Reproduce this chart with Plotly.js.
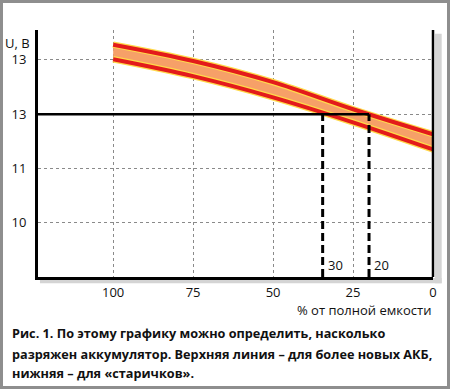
<!DOCTYPE html>
<html>
<head>
<meta charset="utf-8">
<script src="https://cdn.plot.ly/plotly-3.0.1.min.js"></script>
<style>
  html, body { margin: 0; padding: 0; background: #fff; }
  #wrap { position: relative; width: 450px; height: 389px; }
  #chart { width: 450px; height: 389px; }
  #frame { position: absolute; left: 0; top: 0; width: 450px; height: 389px; box-sizing: border-box;
           border: 3px solid #8e8e8e; pointer-events: none; }
</style>
</head>
<body>
<div id="wrap"><div id="chart"></div><div id="frame"></div></div>
<script>
// --- data ---
const capacity = [100, 75, 50, 25, 0];          // % of full capacity
const uNew     = [13.28, 12.98, 12.59, 12.09, 11.63]; // upper line (newer batteries)
const uOld     = [13.01, 12.70, 12.31, 11.85, 11.35]; // lower line (older batteries)
const refVoltage = 12;
const markX = [34.5, 20];
const markLabels = ['30', '20'];
const xTickVals = [100, 75, 50, 25, 0];
const xTickText = ['100', '75', '50', '25', '0'];
const yTickVals = [10, 11, 12, 13];
const yTickText = ['10', '11', '13', '13'];
const xRange = [123.5, 0];
const yRange = [9, 13.55];
const yTitle = 'U, B';
const xTitle = '% от полной емкости';
const caption = [
  'Рис. 1. По этому графику можно определить, насколько',
  'разряжен аккумулятор. Верхняя линия – для более новых АКБ,',
  'нижняя – для «старичков».'
];

const RED = '#e31b1b', ORANGE = '#f6a068', YEL = '#ffd94a';
const traces = [];
traces.push({x: capacity, y: uOld, mode: 'lines', line: {width: 0, shape: 'spline', color: 'rgba(0,0,0,0)'}, hoverinfo: 'skip'});
traces.push({x: capacity, y: uNew, mode: 'lines', fill: 'tonexty', fillcolor: ORANGE, line: {width: 0, shape: 'spline', color: 'rgba(0,0,0,0)'}, hoverinfo: 'skip'});
[uNew, uOld].forEach(u => traces.push({x: capacity, y: u, mode: 'lines', line: {width: 6.5, shape: 'spline', color: YEL}, hoverinfo: 'skip'}));
[uNew, uOld].forEach(u => traces.push({x: capacity, y: u, mode: 'lines', line: {width: 4, shape: 'spline', color: RED}, hoverinfo: 'skip'}));
// reference voltage line
traces.push({x: [xRange[0], markX[1]], y: [refVoltage, refVoltage], mode: 'lines', line: {width: 2.5, color: '#000'}, hoverinfo: 'skip'});
markX.forEach(mx => traces.push({x: [mx, mx], y: [yRange[0], refVoltage], mode: 'lines', line: {width: 3, color: '#000', dash: '8px,4px'}, hoverinfo: 'skip'}));

const annotations = [];
annotations.push({xref: 'paper', yref: 'y', x: -0.015, y: 13.31, xanchor: 'right', yanchor: 'middle', text: yTitle, showarrow: false, font: {size: 13, color: '#111', family: 'Open Sans'}});
annotations.push({xref: 'paper', yref: 'paper', x: 1, y: -0.134, xanchor: 'right', yanchor: 'middle', text: xTitle, showarrow: false, font: {size: 13, color: '#111', family: 'Open Sans'}});
markX.forEach((mx, i) => annotations.push({xref: 'x', yref: 'y', x: mx, y: 9.22, xanchor: 'left', yanchor: 'middle', xshift: 3, text: markLabels[i], showarrow: false, font: {size: 13, color: '#111', family: 'Open Sans'}}));
const capY = [-0.2267, -0.3117, -0.3887];
caption.forEach((t, i) => annotations.push({xref: 'paper', yref: 'paper', x: -0.0709, y: capY[i], xanchor: 'left', yanchor: 'middle', text: '<b>' + t + '</b>', showarrow: false, font: {size: 12.7, color: '#111', family: 'Open Sans'}}));

const shapes = [
  // shadow right of plot and below it
  {type: 'rect', xref: 'paper', yref: 'paper', x0: 1.005, x1: 1.022, y0: -0.025, y1: 0.985, fillcolor: '#d4d4d4', line: {width: 0}, layer: 'below'},
  {type: 'rect', xref: 'paper', yref: 'paper', x0: 0.005, x1: 1.022, y0: -0.025, y1: -0.004, fillcolor: '#d4d4d4', line: {width: 0}, layer: 'below'},
  // right frame line of the plot
  {type: 'line', xref: 'paper', yref: 'paper', x0: 1, x1: 1, y0: 0, y1: 1, line: {width: 2.5, color: '#000'}}
];

const layout = {
  width: 450, height: 389,
  margin: {l: 38, r: 17, t: 30, b: 112},
  paper_bgcolor: '#fff', plot_bgcolor: 'rgba(0,0,0,0)',
  showlegend: false,
  font: {family: 'Open Sans', size: 13, color: '#111'},
  xaxis: {range: xRange, tickvals: xTickVals, ticktext: xTickText, showgrid: true, gridcolor: '#8a8a8a', griddash: 'dot', gridwidth: 1,
          zeroline: false, showline: true, linecolor: '#000', linewidth: 3, ticks: '', ticklabelstandoff: 1, fixedrange: true},
  yaxis: {range: yRange, tickvals: yTickVals, ticktext: yTickText, showgrid: true, gridcolor: '#8a8a8a', griddash: 'dot', gridwidth: 1,
          zeroline: false, showline: true, linecolor: '#000', linewidth: 3, ticks: '', ticklabelstandoff: 6, fixedrange: true},
  annotations: annotations,
  shapes: shapes
};
Plotly.newPlot('chart', traces, layout, {displayModeBar: false, staticPlot: true});
</script>
</body>
</html>
